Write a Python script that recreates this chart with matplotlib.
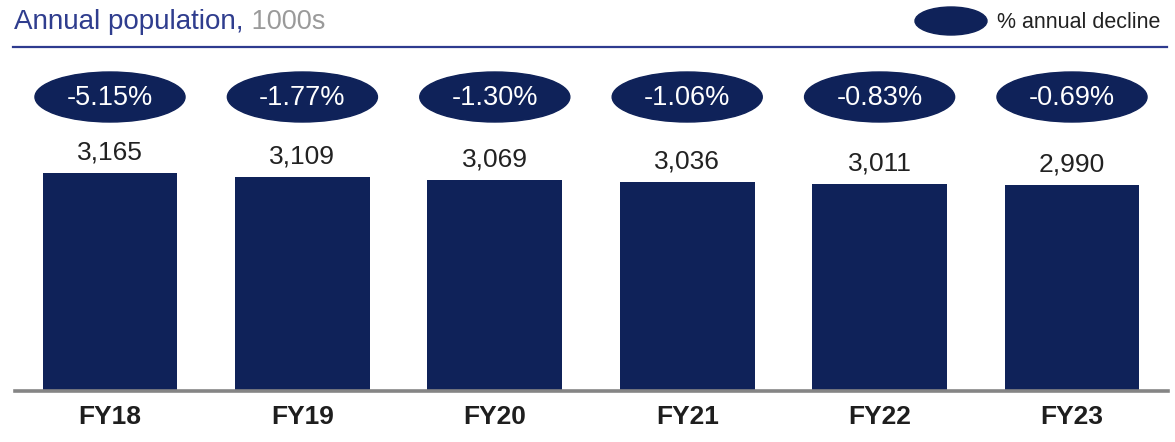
import matplotlib
matplotlib.use("Agg")
import matplotlib.pyplot as plt
from matplotlib.patches import Ellipse
from matplotlib.lines import Line2D

plt.rcParams['font.family'] = ['Liberation Sans', 'DejaVu Sans']

years = ['FY18', 'FY19', 'FY20', 'FY21', 'FY22', 'FY23']
population = [3165, 3109, 3069, 3036, 3011, 2990]
decline = ['-5.15%', '-1.77%', '-1.30%', '-1.06%', '-0.83%', '-0.69%']

navy = '#0f2259'
W, H = 1175, 442

fig = plt.figure(figsize=(W / 100, H / 100), dpi=100)
ax = fig.add_axes([0, 0, 1, 1])
ax.set_xlim(-110 / 192.4, (W - 110) / 192.4)
ax.set_ylim(-51 / 0.0689, (H - 51) / 0.0689)
ax.axis('off')

x = range(len(years))
ax.bar(x, population, width=0.70, color=navy, zorder=2)
ax.axhline(0, xmin=15 / W, xmax=1168 / W, color='#858585', lw=2.6, zorder=3)

for i, v in enumerate(population):
    ax.annotate(f'{v:,}', (i, v), xytext=(0, 14.5), textcoords='offset points',
                ha='center', va='center', fontsize=19, color='#222222')
    ax.annotate(years[i], (i, 0), xytext=(0, -19), textcoords='offset points',
                ha='center', va='center', fontsize=19, fontweight='bold', color='#1e1e1e')
    e = Ellipse((i, 1 - 97 / H), width=0.78, height=50 / H, color=navy,
                transform=ax.get_xaxis_transform(), zorder=2)
    ax.add_patch(e)
    ax.text(i, 1 - 98 / H, decline[i], transform=ax.get_xaxis_transform(),
            ha='center', va='center', fontsize=19.5, color='white', zorder=3)

# title and rule
t1 = fig.text(14 / W, 1 - 22 / H, 'Annual population,', fontsize=20,
              color='#2f3d8e', va='center', ha='left')
ax.annotate(' 1000s', xy=(1, 0.5), xycoords=t1, va='center', ha='left',
            fontsize=19.5, color='#9a9a9a')
fig.add_artist(Line2D([13 / W, 1167 / W], [1 - 47 / H, 1 - 47 / H],
                      color='#2e3b8f', lw=1.6))

# legend
fig.add_artist(Ellipse((951 / W, 1 - 21 / H), width=72 / W, height=28 / H,
                       color=navy, transform=fig.transFigure))
fig.text(997 / W, 1 - 23 / H, '% annual decline', fontsize=15.5,
         color='#222222', va='center', ha='left')

fig.savefig('out.png', dpi=100)
